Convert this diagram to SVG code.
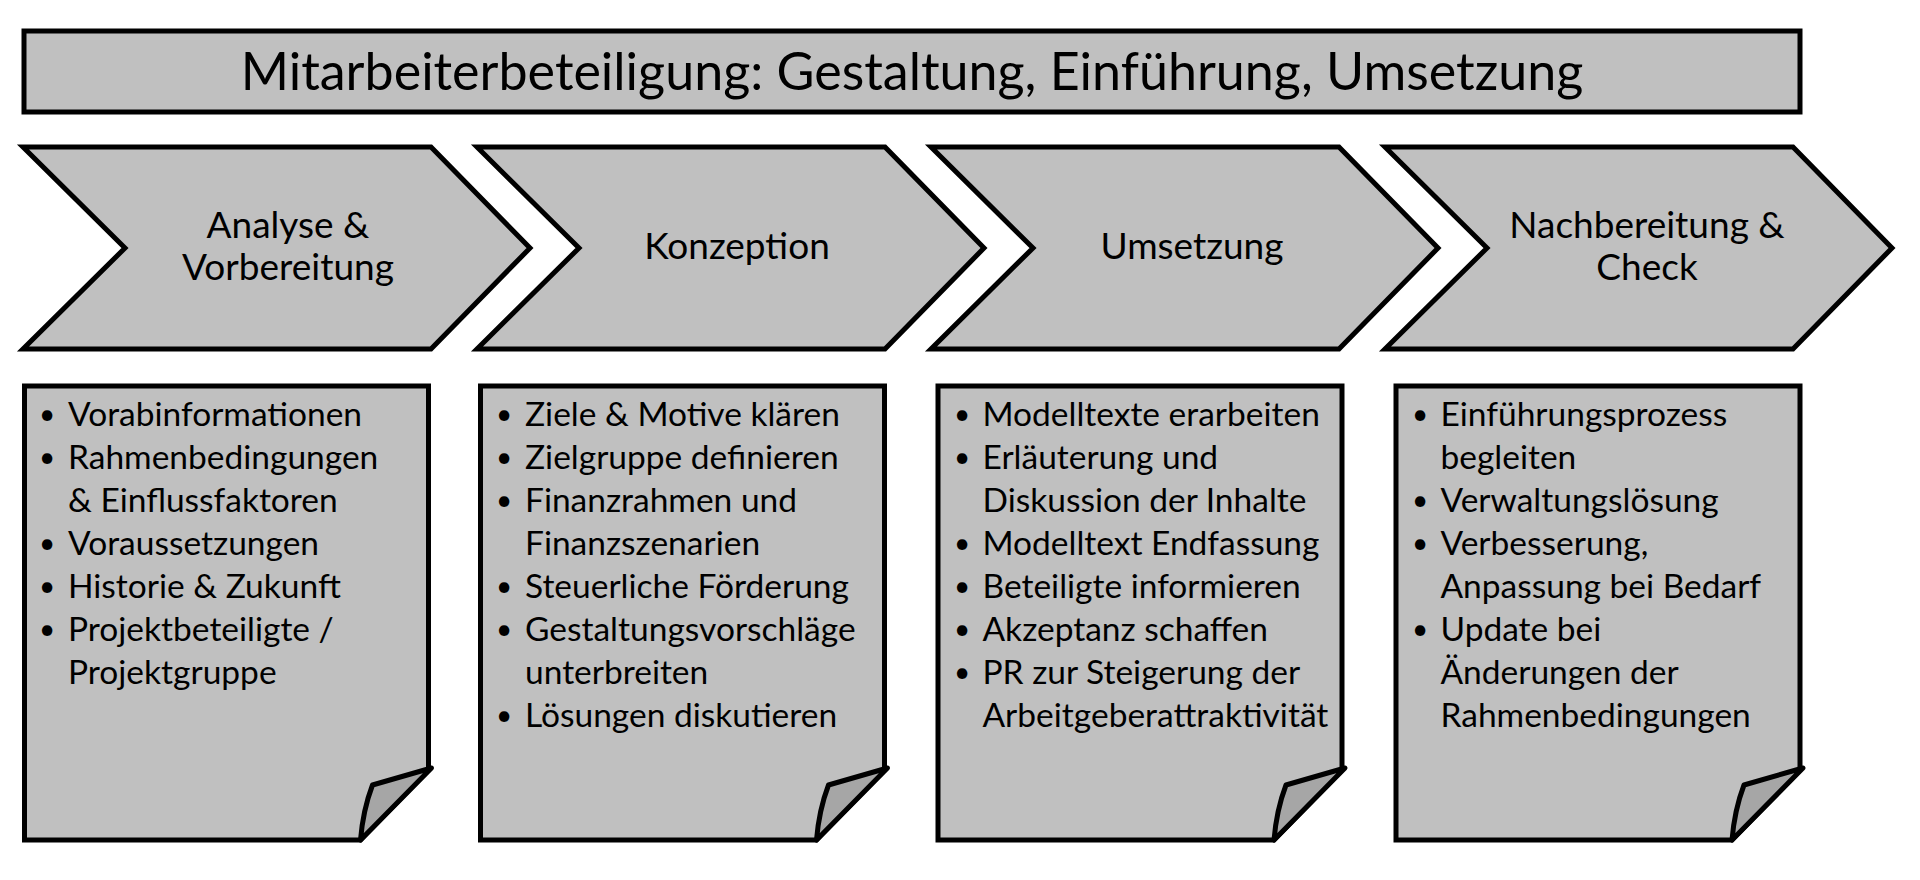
<svg xmlns="http://www.w3.org/2000/svg" width="1920" height="880" viewBox="0 0 1920 880">
<defs>
<style>
.shape{fill:#c0c0c0;stroke:#000;stroke-width:5;stroke-linejoin:miter}
.fold{fill:#a6a6a6;stroke:#000;stroke-width:5;stroke-linejoin:round}
.title{font-family:Lato,"Liberation Sans",sans-serif;font-size:52px;fill:#000;text-anchor:middle}
.step{font-family:Lato,"Liberation Sans",sans-serif;font-size:37px;fill:#000;text-anchor:middle}
.item{font-family:Lato,"Liberation Sans",sans-serif;font-size:33.5px;fill:#000}
.dot{font-family:Lato,"Liberation Sans",sans-serif;font-size:28px;fill:#000}
</style>
</defs>
<rect width="1920" height="880" fill="#fff"/>
<g id="title">
<rect class="shape" x="24" y="31" width="1776" height="81"/>
<text class="title" x="912" y="90">Mitarbeiterbeteiligung: Gestaltung, Einführung, Umsetzung</text>
</g>
<g id="step-1">
<polygon class="shape" points="23,147 431,147 530,248 431,349 23,349 125,248"/>
<text class="step" x="288" y="238">Analyse &amp;</text>
<text class="step" x="288" y="280">Vorbereitung</text>
</g>
<g id="step-2">
<polygon class="shape" points="477,147 885,147 984,248 885,349 477,349 579,248"/>
<text class="step" x="737" y="259">Konzeption</text>
</g>
<g id="step-3">
<polygon class="shape" points="931,147 1339,147 1438,248 1339,349 931,349 1033,248"/>
<text class="step" x="1192" y="259">Umsetzung</text>
</g>
<g id="step-4">
<polygon class="shape" points="1385,147 1793,147 1892,248 1793,349 1385,349 1487,248"/>
<text class="step" x="1647" y="238">Nachbereitung &amp;</text>
<text class="step" x="1647" y="280">Check</text>
</g>
<g id="note-1">
<polygon class="shape" points="24.5,386 428.5,386 428.5,770 360.5,840 24.5,840"/>
<path class="fold" d="M360.5,840 Q363,810 372.5,785 L431.5,768 Z"/>
<g class="dot"><text x="39" y="424">•</text><text x="39" y="467">•</text><text x="39" y="553">•</text><text x="39" y="596">•</text><text x="39" y="639">•</text></g>
<g class="item">
<text x="68" y="426">Vorabinformationen</text>
<text x="68" y="469">Rahmenbedingungen</text>
<text x="68" y="512">&amp; Einflussfaktoren</text>
<text x="68" y="555">Voraussetzungen</text>
<text x="68" y="598">Historie &amp; Zukunft</text>
<text x="68" y="641">Projektbeteiligte /</text>
<text x="68" y="684">Projektgruppe</text>
</g>
</g>
<g id="note-2">
<polygon class="shape" points="480.5,386 884.5,386 884.5,770 816.5,840 480.5,840"/>
<path class="fold" d="M816.5,840 Q819,810 828.5,785 L887.5,768 Z"/>
<g class="dot"><text x="496" y="424">•</text><text x="496" y="467">•</text><text x="496" y="510">•</text><text x="496" y="596">•</text><text x="496" y="639">•</text><text x="496" y="725">•</text></g>
<g class="item">
<text x="525" y="426">Ziele &amp; Motive klären</text>
<text x="525" y="469">Zielgruppe definieren</text>
<text x="525" y="512">Finanzrahmen und</text>
<text x="525" y="555">Finanzszenarien</text>
<text x="525" y="598">Steuerliche Förderung</text>
<text x="525" y="641">Gestaltungsvorschläge</text>
<text x="525" y="684">unterbreiten</text>
<text x="525" y="727">Lösungen diskutieren</text>
</g>
</g>
<g id="note-3">
<polygon class="shape" points="938,386 1342,386 1342,770 1274,840 938,840"/>
<path class="fold" d="M1274,840 Q1276.5,810 1286,785 L1345,768 Z"/>
<g class="dot"><text x="954" y="424">•</text><text x="954" y="467">•</text><text x="954" y="553">•</text><text x="954" y="596">•</text><text x="954" y="639">•</text><text x="954" y="682">•</text></g>
<g class="item">
<text x="982.5" y="426">Modelltexte erarbeiten</text>
<text x="982.5" y="469">Erläuterung und</text>
<text x="982.5" y="512">Diskussion der Inhalte</text>
<text x="982.5" y="555">Modelltext Endfassung</text>
<text x="982.5" y="598">Beteiligte informieren</text>
<text x="982.5" y="641">Akzeptanz schaffen</text>
<text x="982.5" y="684">PR zur Steigerung der</text>
<text x="982.5" y="727">Arbeitgeberattraktivität</text>
</g>
</g>
<g id="note-4">
<polygon class="shape" points="1396,386 1800,386 1800,770 1732,840 1396,840"/>
<path class="fold" d="M1732,840 Q1734.5,810 1744,785 L1803,768 Z"/>
<g class="dot"><text x="1412" y="424">•</text><text x="1412" y="510">•</text><text x="1412" y="553">•</text><text x="1412" y="639">•</text></g>
<g class="item">
<text x="1440.5" y="426">Einführungsprozess</text>
<text x="1440.5" y="469">begleiten</text>
<text x="1440.5" y="512">Verwaltungslösung</text>
<text x="1440.5" y="555">Verbesserung,</text>
<text x="1440.5" y="598">Anpassung bei Bedarf</text>
<text x="1440.5" y="641">Update bei</text>
<text x="1440.5" y="684">Änderungen der</text>
<text x="1440.5" y="727">Rahmenbedingungen</text>
</g>
</g>
</svg>
